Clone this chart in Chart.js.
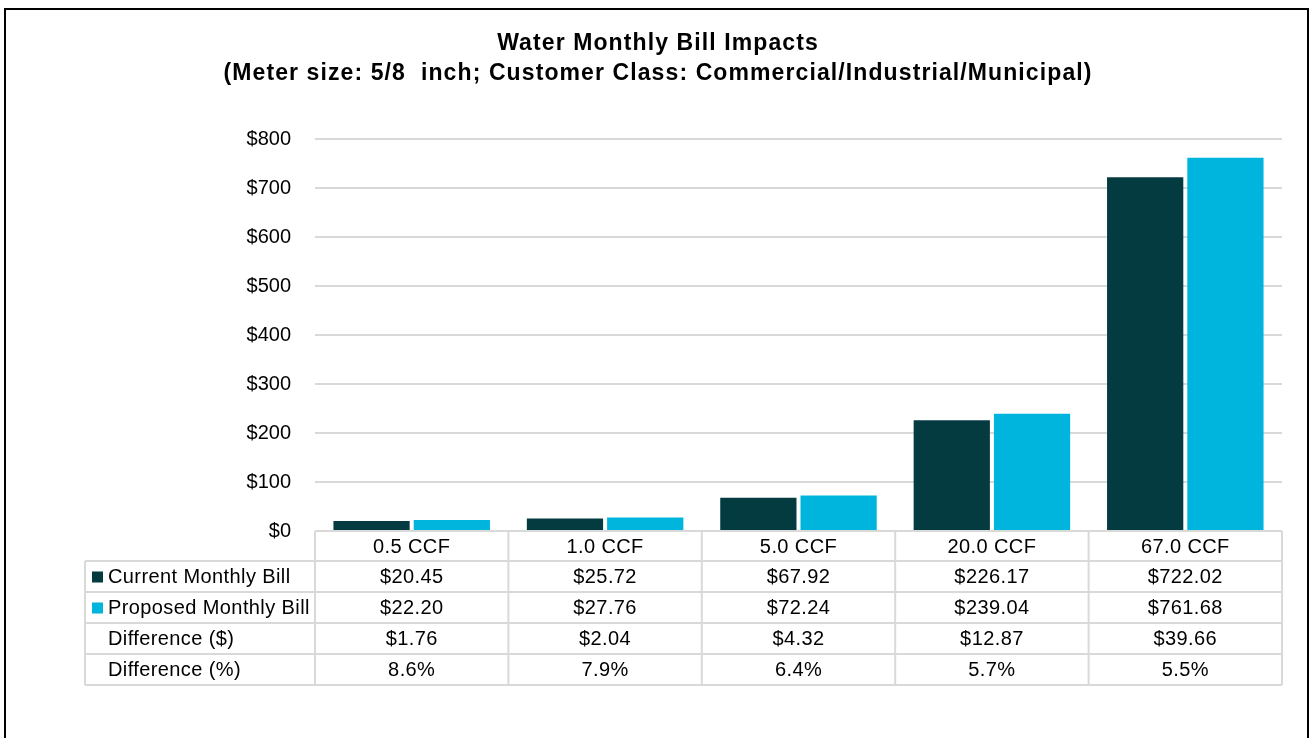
<!DOCTYPE html>
<html>
<head>
<meta charset="utf-8">
<script src="https://cdn.jsdelivr.net/npm/chart.js@4/dist/chart.umd.min.js"></script>
<style>
  html, body { margin: 0; padding: 0; background: #fff; }
</style>
</head>
<body>
<canvas id="billChart" width="1312" height="738"></canvas>
<script>
const categories = ['0.5 CCF', '1.0 CCF', '5.0 CCF', '20.0 CCF', '67.0 CCF'];
const currentBill = [20.45, 25.72, 67.92, 226.17, 722.02];
const proposedBill = [22.20, 27.76, 72.24, 239.04, 761.68];
const diffDollar = [1.76, 2.04, 4.32, 12.87, 39.66];
const diffPercent = [8.6, 7.9, 6.4, 5.7, 5.5];
const titleLines = [
  'Water Monthly Bill Impacts',
  '(Meter size: 5/8  inch; Customer Class: Commercial/Industrial/Municipal)'
];

const darkTeal = '#043b40';
const lightBlue = '#00b5dd';
const lineGray = '#d9d9d9';
const fontFamily = '"Liberation Sans", Arial, sans-serif';

const money = v => '$' + v.toFixed(2);

// frame + title + data table drawn around the chart area
const extras = {
  id: 'extras',
  beforeDraw(chart) {
    const c = chart.ctx;
    c.save();
    c.fillStyle = '#fff';
    c.fillRect(0, 0, chart.width, chart.height);
    c.strokeStyle = '#000';
    c.lineWidth = 2;
    c.strokeRect(5, 9, 1303, 800);
    c.fillStyle = '#000';
    c.font = 'bold 23px ' + fontFamily;
    c.letterSpacing = '1.1px';
    c.textAlign = 'center';
    c.textBaseline = 'middle';
    c.fillText(titleLines[0], 658, 44);
    c.fillText(titleLines[1], 658, 74);
    c.restore();
  },
  afterDraw(chart) {
    const c = chart.ctx;
    const area = chart.chartArea;
    const x = chart.scales.x;
    const n = categories.length;
    const colW = (area.right - area.left) / n;
    const tableLeft = 85;
    const headTop = area.bottom;
    const headH = 30;
    const rowH = 31;
    const rows = [
      { label: 'Current Monthly Bill', color: darkTeal, vals: currentBill.map(money) },
      { label: 'Proposed Monthly Bill', color: lightBlue, vals: proposedBill.map(money) },
      { label: 'Difference ($)', color: null, vals: diffDollar.map(money) },
      { label: 'Difference (%)', color: null, vals: diffPercent.map(v => v.toFixed(1) + '%') }
    ];
    const bottom = headTop + headH + rowH * rows.length;

    c.save();
    c.strokeStyle = lineGray;
    c.lineWidth = 2;
    c.beginPath();
    // horizontal lines
    c.moveTo(area.left, headTop); c.lineTo(area.right, headTop);
    for (let i = 0; i <= rows.length; i++) {
      const y = headTop + headH + rowH * i;
      c.moveTo(tableLeft, y); c.lineTo(area.right, y);
    }
    // vertical lines
    for (let j = 0; j <= n; j++) {
      const xx = area.left + colW * j;
      c.moveTo(xx, headTop); c.lineTo(xx, bottom);
    }
    c.moveTo(tableLeft, headTop + headH); c.lineTo(tableLeft, bottom);
    c.stroke();

    c.fillStyle = '#000';
    c.font = '20px ' + fontFamily;
    c.letterSpacing = '0.4px';
    c.textBaseline = 'middle';
    c.textAlign = 'center';
    categories.forEach((cat, j) => {
      c.fillText(cat, x.getPixelForValue(j), headTop + headH / 2 + 1);
    });
    rows.forEach((r, i) => {
      const cy = headTop + headH + rowH * i + rowH / 2 + 1;
      if (r.color) {
        c.fillStyle = r.color;
        c.fillRect(92, cy - 6, 11, 11);
      }
      c.fillStyle = '#000';
      c.textAlign = 'left';
      c.fillText(r.label, 108, cy);
      c.textAlign = 'center';
      r.vals.forEach((v, j) => c.fillText(v, x.getPixelForValue(j), cy));
    });
    c.restore();
  }
};

new Chart(document.getElementById('billChart'), {
  type: 'bar',
  data: {
    labels: categories,
    datasets: [
      { label: 'Current Monthly Bill', data: currentBill, backgroundColor: darkTeal },
      { label: 'Proposed Monthly Bill', data: proposedBill, backgroundColor: lightBlue }
    ]
  },
  options: {
    responsive: false,
    animation: false,
    devicePixelRatio: 1,
    layout: { padding: { top: 139, right: 30, bottom: 207, left: 0 } },
    datasets: { bar: { barPercentage: 0.95, categoryPercentage: 0.83 } },
    plugins: {
      legend: { display: false },
      title: { display: false },
      tooltip: { enabled: false }
    },
    scales: {
      x: { display: false },
      y: {
        min: 0,
        max: 800,
        afterFit(scale) { scale.width = 315; },
        border: { display: false },
        grid: { color: lineGray, lineWidth: 2, drawTicks: false },
        ticks: {
          stepSize: 100,
          padding: 24,
          color: '#000',
          font: { family: fontFamily, size: 20 },
          callback: v => '$' + v
        }
      }
    }
  },
  plugins: [extras]
});
</script>
</body>
</html>
